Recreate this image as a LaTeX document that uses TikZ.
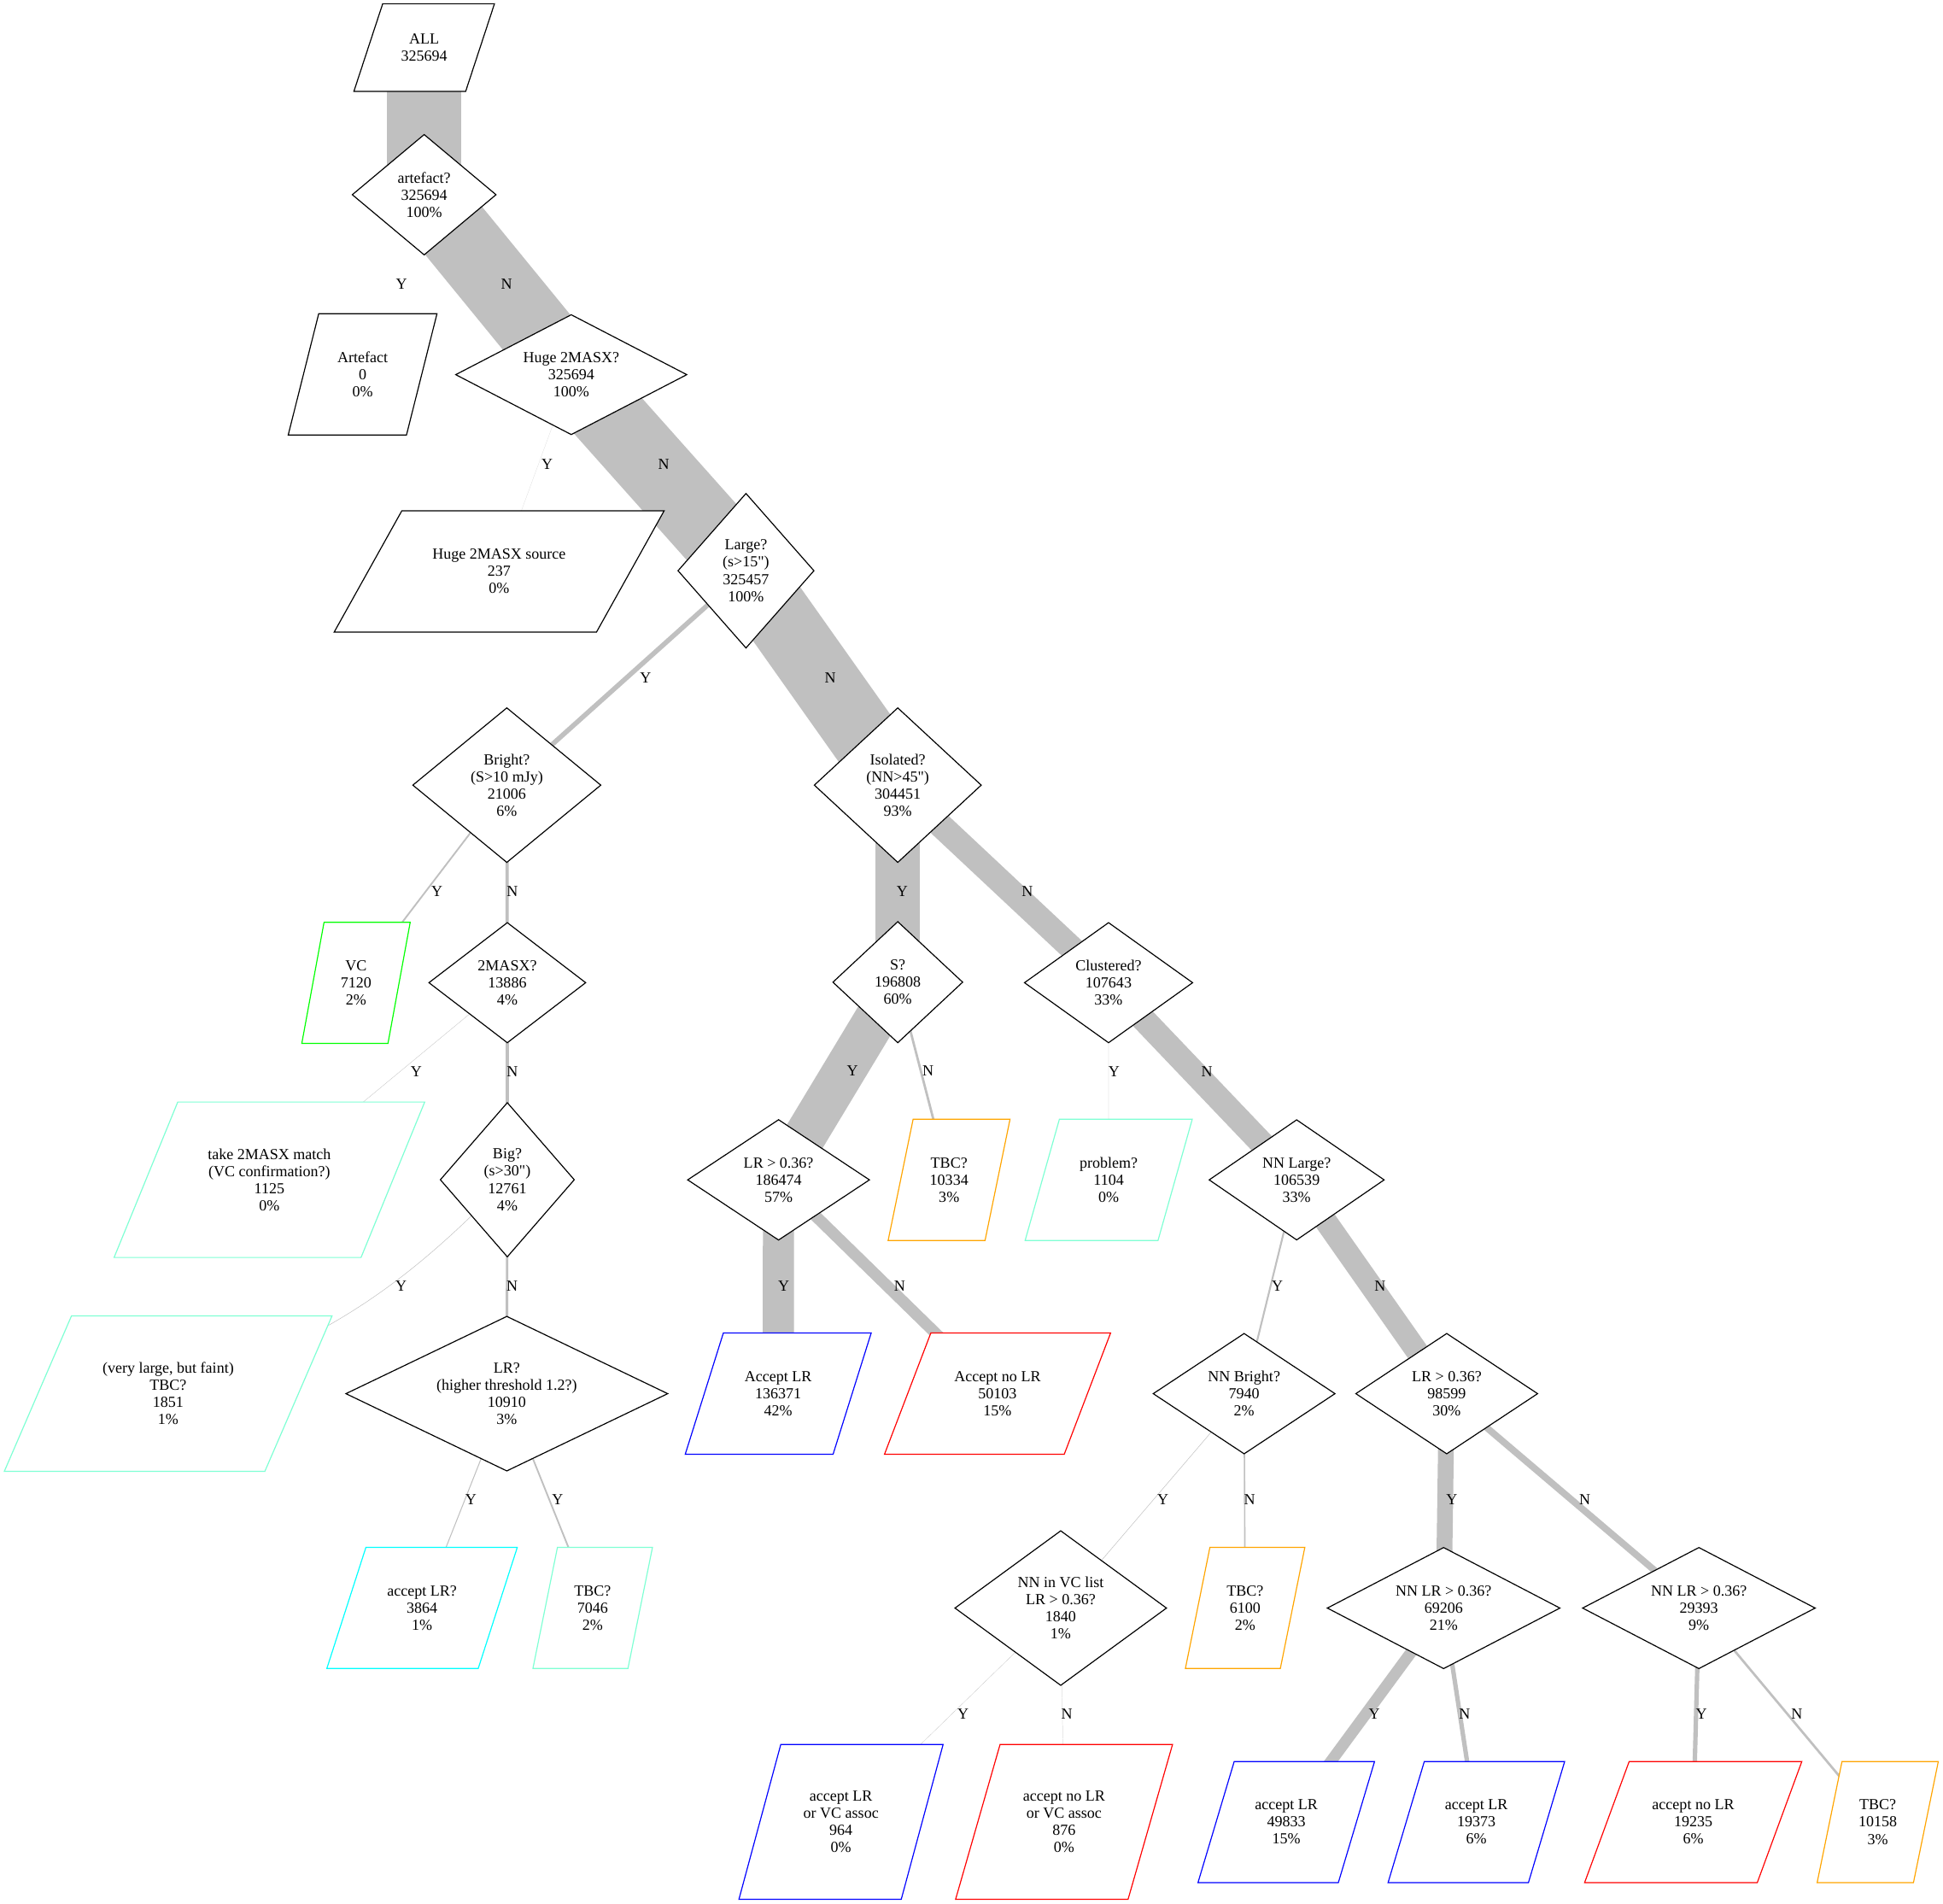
\documentclass[tikz,border=0pt]{standalone}
\usepackage{fontspec}
\setmainfont{Liberation Serif}
\usetikzlibrary{shapes.geometric, backgrounds, calc}

\definecolor{aquamarine}{RGB}{127,255,212}
\definecolor{tbcorange}{RGB}{255,165,0}
\definecolor{vcgreen}{RGB}{0,255,0}
\definecolor{lrcyan}{RGB}{0,255,255}
\definecolor{flowgrey}{RGB}{192,192,192}

% straight double quote, kept out of the TeX ligature mapping
\newcommand{\dquote}{\XeTeXglyph\XeTeXcharglyph"22\relax}

\tikzstyle{decision} = [diamond, draw=black, fill=white, line width=0.7pt, inner sep=0pt, align=center]
\tikzstyle{outcome} = [rectangle, inner sep=0pt, align=center]
\tikzstyle{yn} = [inner sep=0pt]
\tikzset{
  flow/.style={draw=flowgrey, line width=#1*0.03cm},
  % diamond size: width, height
  dsize/.code 2 args={%
    \pgfmathsetmacro\dAsp{#1/#2}%
    \edef\dTmp{\noexpand\tikzset{minimum width=#1*0.03cm, minimum height=#2*0.03cm, aspect=\dAsp}}\dTmp},
  % parallelogram box: width, height
  psize/.style 2 args={minimum width=#1*0.03cm, minimum height=#2*0.03cm}
}

\begin{document}
\begin{tikzpicture}[x=0.03cm, y=-0.03cm, font=\fontsize{10.6}{11.8}\selectfont]
  \useasboundingbox (0,0) rectangle (1568,1536);

  % level 0-3
  \node (all) [outcome, psize={113}{70.3}] at (342.3,38.4) {ALL\\325694};
  \node (artq) [decision, dsize={116.3}{97.4}] at (342.3,157.1) {artefact?\\325694\\100\%};
  \node (artefact) [outcome, psize={119.6}{97.4}] at (292.6,302.1) {Artefact\\0\\0\%};
  \node (huge) [decision, dsize={186.8}{97}] at (461,302.3) {Huge 2MASX?\\325694\\100\%};
  \node (hugesrc) [outcome, psize={265.8}{97.4}] at (402.8,461.1) {Huge 2MASX source\\237\\0\%};
  \node (large) [decision, dsize={110}{125}] at (602,460.5) {Large?\\(s>15\dquote)\\325457\\100\%};

  % large branch
  \node (bright) [decision, dsize={152}{125}] at (409,633.5) {Bright?\\(S>10 mJy)\\21006\\6\%};
  \node (vc) [outcome, psize={87}{97.2}] at (287.3,793) {VC\\7120\\2\%};
  \node (twomass) [decision, dsize={126.8}{97.2}] at (409.4,792.9) {2MASX?\\13886\\4\%};
  \node (take) [outcome, psize={250.2}{125}] at (217.4,951.9) {take 2MASX match\\(VC confirmation?)\\1125\\0\%};
  \node (big) [decision, dsize={108.4}{124.7}] at (409.4,951.9) {Big?\\(s>30\dquote)\\12761\\4\%};
  \node (faint) [outcome, psize={264}{125}] at (135.7,1124.5) {(very large, but faint)\\TBC?\\1851\\1\%};
  \node (lrhigh) [decision, dsize={260}{125}] at (409,1124.5) {LR?\\(higher threshold 1.2?)\\10910\\3\%};
  \node (acclrq) [outcome, psize={153.2}{97.2}] at (340.6,1297.4) {accept LR?\\3864\\1\%};
  \node (tbclr) [outcome, psize={96}{97.2}] at (478.3,1297.4) {TBC?\\7046\\2\%};

  % isolated branch
  \node (isolated) [decision, dsize={135}{125}] at (724.5,633.5) {Isolated?\\(NN>45\dquote)\\304451\\93\%};
  \node (sq) [decision, dsize={105}{98}] at (724.5,792.5) {S?\\196808\\60\%};
  \node (lrone) [decision, dsize={147}{97.4}] at (628.3,952) {LR > 0.36?\\186474\\57\%};
  \node (tbcs) [outcome, psize={97.9}{97.4}] at (765.9,952) {TBC?\\10334\\3\%};
  \node (acclr) [outcome, psize={149.6}{97.4}] at (628,1124.5) {Accept LR\\136371\\42\%};
  \node (accnolr) [outcome, psize={182}{97.4}] at (805,1124.5) {Accept no LR\\50103\\15\%};

  % clustered branch
  \node (clustered) [decision, dsize={136}{97.2}] at (894.6,792.9) {Clustered?\\107643\\33\%};
  \node (problem) [outcome, psize={134.4}{97.4}] at (894.7,952) {problem?\\1104\\0\%};
  \node (nnlarge) [decision, dsize={141.5}{97.2}] at (1046.4,952) {NN Large?\\106539\\33\%};
  \node (nnbright) [decision, dsize={147}{97.4}] at (1004,1124.5) {NN Bright?\\7940\\2\%};
  \node (lrtwo) [decision, dsize={147}{97.4}] at (1167.5,1124.5) {LR > 0.36?\\98599\\30\%};
  \node (nnvc) [decision, dsize={171}{125}] at (856,1297.5) {NN in VC list\\LR > 0.36?\\1840\\1\%};
  \node (tbcnnb) [outcome, psize={95.9}{97.2}] at (1004.8,1297.4) {TBC?\\6100\\2\%};
  \node (nnlry) [decision, dsize={188}{98}] at (1165,1297.5) {NN LR > 0.36?\\69206\\21\%};
  \node (nnlrn) [decision, dsize={188}{98}] at (1371,1297.5) {NN LR > 0.36?\\29393\\9\%};
  \node (accvc) [outcome, psize={164.3}{124.5}] at (678.7,1470) {accept LR\\or VC assoc\\964\\0\%};
  \node (accnovc) [outcome, psize={174.6}{124.5}] at (858.7,1470) {accept no LR\\or VC assoc\\876\\0\%};
  \node (acclra) [outcome, psize={142}{97.2}] at (1038,1470.2) {accept LR\\49833\\15\%};
  \node (acclrb) [outcome, psize={142}{97.2}] at (1191.4,1470.2) {accept LR\\19373\\6\%};
  \node (accnolrc) [outcome, psize={174.8}{97.2}] at (1366.4,1470.2) {accept no LR\\19235\\6\%};
  \node (tbcd) [outcome, psize={97.3}{97.2}] at (1515.3,1470.2) {TBC?\\10158\\3\%};

  % flows, width follows the counts
  \begin{pgfonlayer}{background}
    \fill[white] (0,0) rectangle (1568,1536);
    \draw [flow=60] (all.center) -- (artq.center);
    \draw [flow=0, draw=none] (artq.center) -- (artefact.center); % empty flow
    \draw [flow=60] (artq.center) -- (huge.center);
    \draw [flow=0.044] (huge.center) -- (hugesrc.center);
    \draw [flow=59.96] (huge.center) -- (large.center);
    \draw [flow=3.87] (large.center) -- (bright.center);
    \draw [flow=56.09] (large.center) -- (isolated.center);
    \draw [flow=1.31] (bright.center) -- (vc.center);
    \draw [flow=2.56] (bright.center) -- (twomass.center);
    \draw [flow=0.21] (twomass.center) -- (take.center);
    \draw [flow=2.35] (twomass.center) -- (big.center);
    \draw [flow=0.34] (big.center) to[bend left=14] (faint.center);
    \draw [flow=2.01] (big.center) -- (lrhigh.center);
    \draw [flow=0.71] (lrhigh.center) -- (acclrq.center);
    \draw [flow=1.30] (lrhigh.center) -- (tbclr.center);
    \draw [flow=36.26] (isolated.center) -- (sq.center);
    \draw [flow=19.83] (isolated.center) -- (clustered.center);
    \draw [flow=34.35] (sq.center) -- (lrone.center);
    \draw [flow=1.90] (sq.center) -- (tbcs.center);
    \draw [flow=25.12] (lrone.center) -- (acclr.center);
    \draw [flow=9.23] (lrone.center) -- (accnolr.center);
    \draw [flow=0.20] (clustered.center) -- (problem.center);
    \draw [flow=19.63] (clustered.center) -- (nnlarge.center);
    \draw [flow=1.46] (nnlarge.center) -- (nnbright.center);
    \draw [flow=18.16] (nnlarge.center) -- (lrtwo.center);
    \draw [flow=0.34] (nnbright.center) -- (nnvc.center);
    \draw [flow=1.12] (nnbright.center) -- (tbcnnb.center);
    \draw [flow=0.18] (nnvc.center) -- (accvc.center);
    \draw [flow=0.16] (nnvc.center) -- (accnovc.center);
    \draw [flow=12.75] (lrtwo.center) -- (nnlry.center);
    \draw [flow=5.41] (lrtwo.center) -- (nnlrn.center);
    \draw [flow=9.18] (nnlry.center) -- (acclra.center);
    \draw [flow=3.57] (nnlry.center) -- (acclrb.center);
    \draw [flow=3.54] (nnlrn.center) -- (accnolrc.center);
    \draw [flow=1.87] (nnlrn.center) -- (tbcd.center);

    % parallelogram outlines of the outcome boxes
    \foreach \n/\c in {all/black, artefact/black, hugesrc/black, vc/vcgreen, take/aquamarine,
        faint/aquamarine, acclrq/lrcyan, tbclr/aquamarine, tbcs/tbcorange, acclr/blue,
        accnolr/red, problem/aquamarine, tbcnnb/tbcorange, accvc/blue, accnovc/red,
        acclra/blue, acclrb/blue, accnolrc/red, tbcd/tbcorange}
      \filldraw [fill=white, draw=\c, line width=0.7pt]
        ($(\n.north west)!0.205!(\n.north east)$) -- (\n.north east)
        -- ($(\n.south east)!0.205!(\n.south west)$) -- (\n.south west) -- cycle;
  \end{pgfonlayer}

  % answers
  \node (y1) [yn] at (324,229) {Y};
  \node (n1) [yn] at (408.8,229) {N};
  \node (y2) [yn] at (441.5,374.5) {Y};
  \node (n2) [yn] at (535.7,374.5) {N};
  \node (y3) [yn] at (521,547) {Y};
  \node (n3) [yn] at (670,547) {N};
  \node (y4) [yn] at (352.6,719) {Y};
  \node (n4) [yn] at (413.5,719) {N};
  \node (y5) [yn] at (728,719) {Y};
  \node (n5) [yn] at (829,719) {N};
  \node (y6) [yn] at (336,865) {Y};
  \node (n6) [yn] at (413.5,865) {N};
  \node (y7) [yn] at (688,864) {Y};
  \node (n7) [yn] at (749,864) {N};
  \node (y8) [yn] at (899,865) {Y};
  \node (n8) [yn] at (974,865) {N};
  \node (y9) [yn] at (323.7,1038) {Y};
  \node (n9) [yn] at (413.2,1038) {N};
  \node (y10) [yn] at (632.4,1038) {Y};
  \node (n10) [yn] at (726,1038) {N};
  \node (y11) [yn] at (1030.8,1038) {Y};
  \node (n11) [yn] at (1113.7,1038) {N};
  \node (y12) [yn] at (380,1210) {Y};
  \node (y13) [yn] at (450,1210) {Y};
  \node (y14) [yn] at (938.5,1210) {Y};
  \node (n14) [yn] at (1008.4,1210) {N};
  \node (y15) [yn] at (1171.6,1210) {Y};
  \node (n15) [yn] at (1279,1210) {N};
  \node (y16) [yn] at (777.2,1383) {Y};
  \node (n16) [yn] at (861,1383) {N};
  \node (y17) [yn] at (1109,1383) {Y};
  \node (n17) [yn] at (1182,1383) {N};
  \node (y18) [yn] at (1373,1383) {Y};
  \node (n18) [yn] at (1450,1383) {N};
\end{tikzpicture}
\end{document}
